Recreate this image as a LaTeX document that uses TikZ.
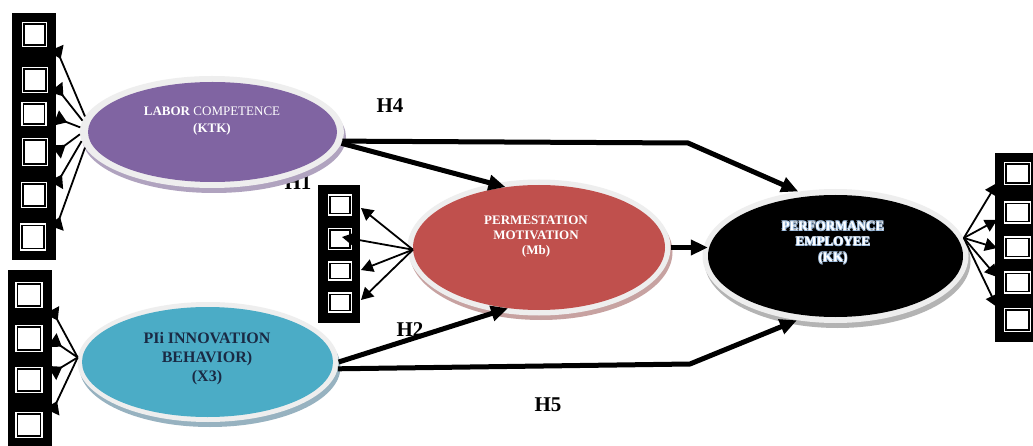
\documentclass[tikz,border=0pt]{standalone}
\usepackage{fontspec}
\setmainfont{Liberation Serif}
\usetikzlibrary{arrows.meta,shapes.geometric,calc}

\definecolor{ringgray}{HTML}{EEEEEE}
\definecolor{ktkfill}{HTML}{8064A2}
\definecolor{ktkshade}{HTML}{B0A3BF}
\definecolor{xfill}{HTML}{4BACC6}
\definecolor{xshade}{HTML}{97B2C0}
\definecolor{mbfill}{HTML}{C0504D}
\definecolor{mbshade}{HTML}{C7A2A1}
\definecolor{kkshade}{HTML}{B3B3B3}
\definecolor{navytext}{HTML}{1A2A44}
\definecolor{glowblue}{HTML}{A9C8EA}

\tikzset{
  column/.style={fill=black},
  indsq/.style 2 args={rectangle, inner sep=0pt, fill=white, draw=white,
    double=black, double distance=1.8pt, line width=1.3pt,
    minimum width=#1, minimum height=#2},
  shade/.style={ellipse, inner sep=0pt, draw=none},
  latent/.style={ellipse, inner sep=0pt, draw=none},
  hyp/.style={font=\bfseries\fontsize{21}{21}\selectfont, inner sep=0pt},
  main/.style={line width=5pt, line join=miter, -{Triangle[length=17pt,width=15pt]}},
  load/.style={line width=1.8pt, -{Triangle[length=12pt,width=13pt]}},
  loadrev/.style={line width=1.8pt, -{Triangle[length=12pt,width=16pt,reversed]}},
}

\begin{document}
\begin{tikzpicture}[x=1pt,y=-1pt]
\useasboundingbox[fill=white] (0,0) rectangle (1033,446);

% labels that sit underneath other shapes
\node[hyp] (h1) at (298,183) {H1};
\node[hyp] (h2) at (410,330) {H2};

% indicator columns
\fill[column] (12,13) rectangle (56,260);
\fill[column] (8,270) rectangle (52,446);
\fill[column] (318,185) rectangle (360,323);
\fill[column] (995,153) rectangle (1033,342);

% indicators of KTK
\node[indsq={21pt}{21pt}] (ktk-i1) at (34.5,34.5) {};
\node[indsq={22pt}{22pt}] (ktk-i2) at (35,80) {};
\node[indsq={21pt}{20pt}] (ktk-i3) at (34,114) {};
\node[indsq={22pt}{24pt}] (ktk-i4) at (35,152) {};
\node[indsq={22pt}{22pt}] (ktk-i5) at (34,195) {};
\node[indsq={22pt}{23pt}] (ktk-i6) at (33,237) {};

% indicators of X3
\node[indsq={23pt}{22pt}] (x3-i1) at (29,295) {};
\node[indsq={23pt}{23pt}] (x3-i2) at (29,338.5) {};
\node[indsq={23pt}{22pt}] (x3-i3) at (29,380) {};
\node[indsq={23pt}{22pt}] (x3-i4) at (29,425) {};

% indicators of Mb
\node[indsq={20pt}{17pt}] (mb-i1) at (340,205) {};
\node[indsq={20pt}{18pt}] (mb-i2) at (340,239) {};
\node[indsq={20pt}{15pt}] (mb-i3) at (340,271) {};
\node[indsq={20pt}{16pt}] (mb-i4) at (340,302.5) {};

% indicators of KK
\node[indsq={23pt}{19pt}] (kk-i1) at (1017.5,173.5) {};
\node[indsq={23pt}{18pt}] (kk-i2) at (1017.5,212.5) {};
\node[indsq={23pt}{18pt}] (kk-i3) at (1017.5,247.5) {};
\node[indsq={23pt}{18pt}] (kk-i4) at (1017.5,282.5) {};
\node[indsq={23pt}{20pt}] (kk-i5) at (1017.5,320) {};

% latent variables: drop shadow, light rim, coloured body
\node[shade, fill=ktkshade, minimum width=264pt, minimum height=112pt] (ktk-shade) at (214,137) {};
\node[shade, fill=ringgray, minimum width=264pt, minimum height=112pt] (ktk-ring) at (212,132) {};
\node[latent, fill=ktkfill, minimum width=249pt, minimum height=100pt] (ktk) at (212.5,132) {};

\node[shade, fill=xshade, minimum width=261pt, minimum height=120pt] (x3-shade) at (210,367) {};
\node[shade, fill=ringgray, minimum width=261pt, minimum height=120pt] (x3-ring) at (208,362) {};
\node[latent, fill=xfill, minimum width=251pt, minimum height=110pt] (x3) at (207.5,362) {};

\node[shade, fill=mbshade, minimum width=263pt, minimum height=136pt] (mb-shade) at (541,252) {};
\node[shade, fill=ringgray, minimum width=263pt, minimum height=136pt] (mb-ring) at (539,247.5) {};
\node[latent, fill=mbfill, minimum width=252pt, minimum height=125pt] (mb) at (539,247.5) {};

\node[shade, fill=kkshade, minimum width=266pt, minimum height=134pt] (kk-shade) at (837.5,261) {};
\node[shade, fill=ringgray, minimum width=266pt, minimum height=134pt] (kk-ring) at (835.5,256) {};
\node[latent, fill=black, minimum width=255pt, minimum height=122pt] (kk) at (835.5,256) {};

% names of the latent variables
\node[font=\fontsize{13}{17}\selectfont, text=white, align=center] (ktk-name) at (212,121)
  {\textbf{LABOR} COMPETENCE\\\textbf{(KTK)}};
\node[font=\bfseries\fontsize{16}{19}\selectfont, text=navytext, align=center] (x3-name) at (207,359)
  {PIi INNOVATION\\BEHAVIOR)\\(X3)};
\node[font=\bfseries\fontsize{13}{15}\selectfont, text=white, align=center] (mb-name) at (536,237)
  {PERMESTATION\\MOTIVATION\\(Mb)};
\foreach \dx/\dy [count=\k] in {0.6/0.6,-0.6/0.6,0.6/-0.6,-0.6/-0.6}
  \node[font=\bfseries\fontsize{13}{15.5}\selectfont, text=glowblue, align=center] (kk-glow\k) at (833+\dx,243+\dy)
    {PERFORMANCE\\EMPLOYEE\\(KK)};
\node[font=\bfseries\fontsize{13}{15.5}\selectfont, text=white, align=center] (kk-name) at (833,243)
  {PERFORMANCE\\EMPLOYEE\\(KK)};

% ends of the loading arrows on the indicator columns
\coordinate (tl1) at (56,48);
\coordinate (tl2) at (56,87);
\coordinate (tl3) at (56,118);
\coordinate (tl4) at (56,152);
\coordinate (tl5) at (56,185);
\coordinate (tl6) at (56,228);
\coordinate (bl1) at (52,310);
\coordinate (bl2) at (52,340);
\coordinate (bl3) at (52,373);
\coordinate (bl4) at (52,412);
\coordinate (mt1) at (361,208);
\coordinate (mt2) at (342,237);
\coordinate (mt3) at (361,270);
\coordinate (mt4) at (361,300);
\coordinate (kt1) at (997,183);
\coordinate (kt2) at (997,220);
\coordinate (kt3) at (997,248);
\coordinate (kt4) at (997,277);
\coordinate (kt5) at (997,307);

% loadings
\draw[loadrev] (ktk-ring.173) -- (tl1);
\draw[loadrev] (ktk-ring.175) -- (tl2);
\draw[loadrev] (ktk-ring.178) -- (tl3);
\draw[loadrev] (ktk-ring.181) -- (tl4);
\draw[loadrev] (ktk-ring.184) -- (tl5);
\draw[loadrev] (ktk-ring.187) -- (tl6);
\foreach \k in {1,...,4} \draw[loadrev] (x3-ring.178) -- (bl\k);
\foreach \k in {1,...,4} \draw[load] (mb.181) -- (mt\k);
\foreach \k in {1,...,5} \draw[load] (kk-ring.8) -- (kt\k);

% structural paths
\draw[main] (ktk-ring.-4) -- (688,143) -- (kk-ring.120);
\draw[main] (ktk-ring.-5) -- (mb.119);
\draw[main] (mb-ring.east) -- (mb-ring.east -| kk.west);
\draw[main] (x3-ring.east) -- (mb.-117);
\draw[main] (x3-ring.-3) -- (690,364) -- (kk-ring.-121);

\node[hyp] (h4) at (390,105.5) {H4};
\node[hyp] (h5) at (548,405) {H5};
\end{tikzpicture}
\end{document}
